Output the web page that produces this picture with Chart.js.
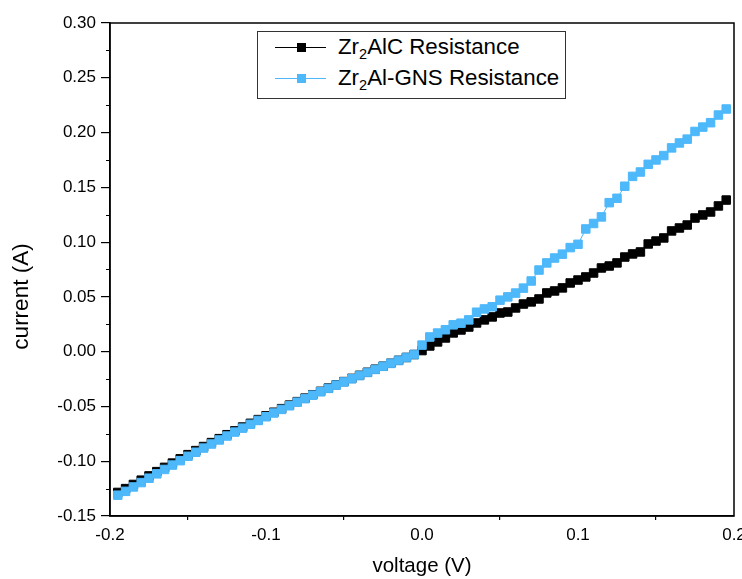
<!DOCTYPE html>
<html lang="en">
<head>
  <meta charset="UTF-8" />
  <title>Zr2AlC I-V</title>
  <script src="https://cdn.jsdelivr.net/npm/chart.js"></script>
  <style>
    body { margin: 0; background: #fff; font-family: "Liberation Sans", Arial, sans-serif; }
    #wrap { position: relative; width: 742px; height: 579px; }
    #legend {
      position: absolute; left: 257px; top: 31px; width: 309px; height: 68px;
      border: 1px solid #333; background: #fff; box-sizing: border-box;
      font-size: 22.3px; color: #000;
    }
    .row { position: absolute; left: 0; height: 26px; line-height: 26px; white-space: nowrap; }
    .sample { position: absolute; left: 17px; top: 13px; width: 51px; height: 1px; }
    .mark { position: absolute; left: 22px; top: -4px; width: 9px; height: 9px; }
    .txt { position: absolute; left: 80px; top: 0; }
    sub { font-size: 14.5px; vertical-align: -5px; line-height: 0; }
  </style>
</head>
<body>
<div id="wrap">
  <canvas id="ivChart" width="742" height="579"></canvas>
  <div id="legend"></div>
</div>

<script>
  // voltage (V)
  const voltage = [
    -0.195, -0.19, -0.185, -0.18, -0.175, -0.17, -0.165, -0.16, -0.155, -0.15,
    -0.145, -0.14, -0.135, -0.13, -0.125, -0.12, -0.115, -0.11, -0.105, -0.1,
    -0.095, -0.09, -0.085, -0.08, -0.075, -0.07, -0.065, -0.06, -0.055, -0.05,
    -0.045, -0.04, -0.035, -0.03, -0.025, -0.02, -0.015, -0.01, -0.005, 0,
    0.005, 0.01, 0.015, 0.02, 0.025, 0.03, 0.035, 0.04, 0.045, 0.05,
    0.055, 0.06, 0.065, 0.07, 0.075, 0.08, 0.085, 0.09, 0.095, 0.1,
    0.105, 0.11, 0.115, 0.12, 0.125, 0.13, 0.135, 0.14, 0.145, 0.15,
    0.155, 0.16, 0.165, 0.17, 0.175, 0.18, 0.185, 0.19, 0.195
  ];

  // current (A) - Zr2AlC
  const currentZr2AlC = [
    -0.1285, -0.1250, -0.1212, -0.1173, -0.1134, -0.1095, -0.1056, -0.1017, -0.0978, -0.0940,
    -0.0903, -0.0866, -0.0830, -0.0794, -0.0758, -0.0723, -0.0688, -0.0654, -0.0620, -0.0586,
    -0.0553, -0.0520, -0.0488, -0.0456, -0.0424, -0.0393, -0.0362, -0.0332, -0.0302, -0.0273,
    -0.0244, -0.0216, -0.0188, -0.0160, -0.0133, -0.0106, -0.0079, -0.0053, -0.0026, 0.0010,
    0.0052, 0.0089, 0.0125, 0.0171, 0.0198, 0.0225, 0.0262, 0.0290, 0.0317, 0.0353,
    0.0362, 0.0399, 0.0435, 0.0454, 0.0481, 0.0536, 0.0554, 0.0582, 0.0627, 0.0654,
    0.0682, 0.0718, 0.0764, 0.0782, 0.0810, 0.0864, 0.0892, 0.0910, 0.0983, 0.1010,
    0.1038, 0.1102, 0.1129, 0.1156, 0.1220, 0.1248, 0.1275, 0.1330, 0.1384
  ];

  // current (A) - Zr2Al-GNS
  const currentGNS = [
    -0.1310, -0.1275, -0.1235, -0.1195, -0.1155, -0.1115, -0.1075, -0.1035, -0.0995, -0.0955,
    -0.0918, -0.0880, -0.0843, -0.0806, -0.0770, -0.0734, -0.0698, -0.0663, -0.0628, -0.0594,
    -0.0560, -0.0527, -0.0494, -0.0461, -0.0429, -0.0397, -0.0366, -0.0335, -0.0305, -0.0276,
    -0.0247, -0.0218, -0.0190, -0.0162, -0.0134, -0.0107, -0.0080, -0.0053, -0.0026, 0.0060,
    0.0134, 0.0170, 0.0200, 0.0245, 0.0260, 0.0290, 0.0360, 0.0390, 0.0410, 0.0470,
    0.0500, 0.0535, 0.0580, 0.0645, 0.0745, 0.0810, 0.0855, 0.0890, 0.0950, 0.0980,
    0.1120, 0.1170, 0.1230, 0.1360, 0.1400, 0.1510, 0.1600, 0.1640, 0.1710, 0.1750,
    0.1790, 0.1860, 0.1905, 0.1940, 0.2010, 0.2050, 0.2090, 0.2160, 0.2215
  ];

  const seriesNames = ['Zr<sub>2</sub>AlC Resistance', 'Zr<sub>2</sub>Al-GNS Resistance'];
  const seriesColors = ['#000000', '#4db8fa'];

  const xTicks = [-0.2, -0.1, 0.0, 0.1, 0.2];
  const yMin = -0.15, yMax = 0.30, yStep = 0.05;
  const yTitle = 'current (A)';

  const font = 'Liberation Sans';

  function points(ys) {
    return voltage.map((v, i) => ({ x: v, y: ys[i] }));
  }

  // frame, minor y ticks and the y title (sits a bit below centre in the original)
  const framePlugin = {
    id: 'frame',
    afterDraw(chart) {
      const { ctx, chartArea: a } = chart;
      const y = chart.scales.y;
      ctx.save();
      ctx.strokeStyle = '#000';
      ctx.lineWidth = 1.5;
      ctx.strokeRect(a.left, a.top, a.right - a.left, a.bottom - a.top);
      ctx.lineWidth = 1.2;
      ctx.beginPath();
      for (let v = yMin + yStep / 2; v < yMax; v += yStep) {
        const py = Math.round(y.getPixelForValue(v)) + 0.5;
        ctx.moveTo(a.left, py);
        ctx.lineTo(a.left - 4, py);
      }
      ctx.stroke();

      ctx.translate(22, (a.top + a.bottom) / 2 + 27);
      ctx.rotate(-Math.PI / 2);
      ctx.fillStyle = '#000';
      ctx.font = '22.5px "' + font + '"';
      ctx.textAlign = 'center';
      ctx.textBaseline = 'middle';
      ctx.fillText(yTitle, 0, 0);
      ctx.restore();
    }
  };

  new Chart(document.getElementById('ivChart').getContext('2d'), {
    type: 'line',
    data: {
      datasets: [
        {
          label: 'Zr2AlC Resistance',
          data: points(currentZr2AlC),
          borderColor: seriesColors[0],
          backgroundColor: seriesColors[0],
          borderWidth: 1,
          pointStyle: 'rect',
          pointRadius: 6,
          pointBorderWidth: 1,
          order: 1
        },
        {
          label: 'Zr2Al-GNS Resistance',
          data: points(currentGNS),
          borderColor: seriesColors[1],
          backgroundColor: seriesColors[1],
          borderWidth: 1,
          pointStyle: 'rect',
          pointRadius: 6,
          pointBorderWidth: 1,
          order: 0
        }
      ]
    },
    options: {
      responsive: false,
      animation: false,
      layout: { padding: { top: 23, right: 8, left: 0, bottom: 0 } },
      plugins: { legend: { display: false }, tooltip: { enabled: false } },
      scales: {
        x: {
          type: 'linear',
          min: -0.2,
          max: 0.2,
          afterFit(s) { s.height = 63; s.paddingLeft = 0; s.paddingRight = 0; },
          afterBuildTicks(s) {
            s.ticks = [];
            for (let i = 0; i < xTicks.length; i++) {
              s.ticks.push({ value: xTicks[i] });
              if (i < xTicks.length - 1) s.ticks.push({ value: (xTicks[i] + xTicks[i + 1]) / 2 });
            }
          },
          border: { color: '#000', width: 1.5 },
          grid: {
            drawOnChartArea: false,
            tickLength: 4,
            lineWidth: 1.2,
            color: ctx => (ctx.index % 2 === 1 ? '#000' : 'rgba(0,0,0,0)')
          },
          ticks: {
            autoSkip: false,
            maxRotation: 0,
            padding: 5,
            color: '#000',
            font: { family: font, size: 17 },
            callback: (v, i) => (i % 2 === 0 ? v.toFixed(1) : '')
          },
          title: {
            display: true,
            text: 'voltage (V)',
            color: '#000',
            font: { family: font, size: 20.5 },
            padding: { top: 0, bottom: 0 }
          }
        },
        y: {
          type: 'linear',
          min: yMin,
          max: yMax,
          afterFit(s) { s.width = 110; },
          border: { color: '#000', width: 1.5 },
          grid: { drawOnChartArea: false, tickLength: 9, lineWidth: 1.2, color: '#000' },
          ticks: {
            stepSize: yStep,
            padding: 5,
            color: '#000',
            font: { family: font, size: 17 },
            callback: v => v.toFixed(2)
          },
          title: { display: false }
        }
      }
    },
    plugins: [framePlugin]
  });

  // legend with subscripts
  const legend = document.getElementById('legend');
  seriesNames.forEach((name, i) => {
    const row = document.createElement('div');
    row.className = 'row';
    row.style.top = (2 + i * 31) + 'px';
    row.innerHTML =
      '<div class="sample" style="background:' + seriesColors[i] + '">' +
      '<div class="mark" style="background:' + seriesColors[i] + '"></div></div>' +
      '<div class="txt">' + name + '</div>';
    legend.appendChild(row);
  });
</script>
</body>
</html>
